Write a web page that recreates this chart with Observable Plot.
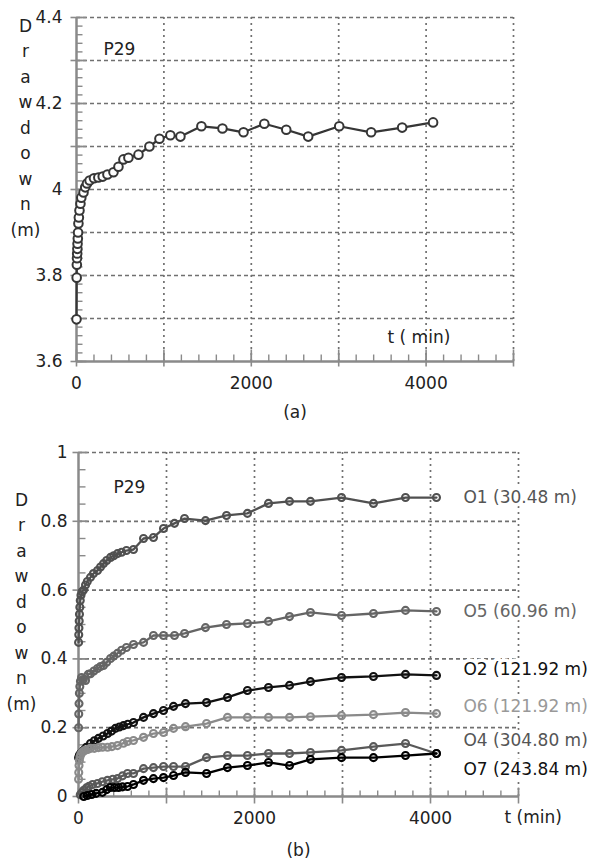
<!DOCTYPE html>
<html>
<head>
<meta charset="utf-8">
<script src="https://cdn.jsdelivr.net/npm/d3@7"></script>
<script src="https://cdn.jsdelivr.net/npm/@observablehq/plot@0.6"></script>
<style>
  html, body { margin: 0; padding: 0; background: white; }
  svg { display: block; }
</style>
</head>
<body>
<div id="chart"></div>
<script>
// ---------- Data ----------
// (a) P29 drawdown [t (min), drawdown (m)]
const P29 = [
  [0,3.698],[2,3.795],[4,3.825],[6,3.84],[8,3.851],[10,3.862],[12,3.874],[15,3.886],
  [18,3.9],[22,3.921],[27,3.935],[34,3.951],[45,3.967],[55,3.981],[80,3.993],[100,4.005],
  [120,4.014],[150,4.021],[200,4.026],[250,4.028],[300,4.03],[354,4.035],[423,4.04],
  [480,4.053],[537,4.07],[594,4.074],[709,4.081],[834,4.1],[949,4.118],[1074,4.126],
  [1189,4.123],[1429,4.147],[1670,4.142],[1911,4.133],[2149,4.153],[2400,4.139],
  [2651,4.123],[3006,4.147],[3371,4.133],[3726,4.144],[4080,4.156]
];

// (b) observation wells [t (min), drawdown (m)]
const O1 = [
  [1,0.448],[3,0.47],[5,0.49],[8,0.51],[11,0.53],[15,0.55],[20,0.57],[28,0.585],[40,0.595],
  [57,0.6],[80,0.615],[100,0.625],[136,0.637],[170,0.648],[216,0.657],[250,0.667],[284,0.677],
  [320,0.686],[364,0.695],[400,0.7],[443,0.706],[490,0.71],[545,0.715],[625,0.718],[739,0.75],
  [852,0.753],[966,0.779],[1091,0.794],[1205,0.808],[1443,0.802],[1682,0.817],[1920,0.823],
  [2159,0.852],[2398,0.858],[2636,0.858],[2989,0.869],[3352,0.852],[3716,0.869],[4068,0.869]
];
const O5 = [
  [1,0.2],[3,0.24],[6,0.27],[10,0.3],[15,0.32],[22,0.335],[35,0.346],[55,0.34],[80,0.337],
  [110,0.355],[136,0.357],[175,0.365],[216,0.372],[250,0.378],[284,0.381],[320,0.39],
  [364,0.401],[400,0.408],[443,0.416],[490,0.425],[545,0.433],[625,0.442],[739,0.448],
  [852,0.468],[966,0.468],[1091,0.468],[1205,0.474],[1443,0.491],[1682,0.5],[1920,0.503],
  [2159,0.509],[2398,0.523],[2636,0.535],[2989,0.526],[3352,0.532],[3716,0.541],[4068,0.538]
];
const O2 = [
  [1,0.113],[10,0.12],[25,0.125],[57,0.134],[90,0.143],[136,0.154],[180,0.162],[227,0.169],
  [280,0.176],[330,0.183],[375,0.19],[420,0.198],[465,0.202],[511,0.206],[560,0.21],
  [625,0.215],[739,0.23],[852,0.241],[966,0.25],[1080,0.262],[1216,0.27],[1455,0.273],
  [1693,0.288],[1920,0.308],[2159,0.317],[2398,0.323],[2636,0.334],[2989,0.346],
  [3352,0.349],[3716,0.355],[4068,0.352]
];
const O6 = [
  [1,0.05],[3,0.07],[6,0.09],[10,0.105],[16,0.115],[25,0.122],[40,0.128],[60,0.132],
  [80,0.135],[110,0.137],[136,0.14],[180,0.14],[227,0.142],[272,0.143],[330,0.143],
  [380,0.145],[443,0.148],[511,0.155],[557,0.16],[625,0.163],[739,0.172],[852,0.183],
  [966,0.186],[1080,0.198],[1216,0.203],[1455,0.212],[1693,0.23],[1920,0.23],[2159,0.23],
  [2398,0.23],[2636,0.232],[2989,0.235],[3352,0.238],[3716,0.244],[4068,0.241]
];
const O4 = [
  [20,0.005],[40,0.012],[60,0.018],[90,0.025],[120,0.03],[160,0.035],[216,0.038],[270,0.043],
  [330,0.047],[390,0.05],[443,0.052],[500,0.06],[557,0.067],[625,0.067],[739,0.081],
  [852,0.084],[966,0.087],[1080,0.087],[1216,0.087],[1455,0.113],[1693,0.119],[1920,0.119],
  [2159,0.125],[2398,0.125],[2636,0.128],[2989,0.134],[3352,0.145],[3716,0.154],[4068,0.125]
];
const O7 = [
  [60,0.0],[100,0.003],[150,0.006],[200,0.009],[272,0.012],[320,0.02],[364,0.026],[410,0.026],
  [455,0.026],[500,0.028],[557,0.029],[625,0.035],[739,0.047],[852,0.052],[966,0.055],
  [1080,0.061],[1216,0.07],[1455,0.067],[1693,0.084],[1920,0.09],[2159,0.099],[2398,0.09],
  [2636,0.108],[2989,0.113],[3352,0.113],[3716,0.119],[4068,0.125]
];

const seriesNames = ["O1","O5","O2","O6","O4","O7"];
const seriesLabels = ["O1 (30.48 m)","O5 (60.96 m)","O2 (121.92 m)","O6 (121.92 m)","O4 (304.80 m)","O7 (243.84 m)"];
const seriesLabelY = [0.869, 0.538, 0.369, 0.262, 0.163, 0.078];
const seriesColors = ["#505050","#656565","#111111","#8a8a8a","#595959","#000000"];
const labelColors  = ["#555555","#666666","#111111","#999999","#555555","#111111"];
const seriesData = [O1, O5, O2, O6, O4, O7];

// Tick values
const xLabelTicks = [0, 2000, 4000];
const xMajor = [0, 1000, 2000, 3000, 4000, 5000];
const xMinor = d3.range(0, 5001, 200);
const xGrid = [1000, 2000, 3000, 4000, 5000];

const yLabelTicksA = [3.6, 3.8, 4.0, 4.2, 4.4];
const yMajorA = d3.range(36, 45, 1).map(d => d / 10);
const yMinorA = d3.range(180, 221, 1).map(d => d / 50);
const yGridA = d3.range(37, 45, 1).map(d => d / 10);

const yLabelTicksB = [0, 0.2, 0.4, 0.6, 0.8, 1];
const yMajorB = [0, 0.2, 0.4, 0.6, 0.8, 1];
const yMinorB = d3.range(0, 21, 1).map(d => d / 20);
const yGridB = [0.2, 0.4, 0.6, 0.8, 1];

// ---------- Styling helpers ----------
const axisColor = "#8a8a8a";
const gridColor = "#707070";
const textColor = "#222";
const font = "DejaVu Sans";
const seg = (x1, y1, x2, y2) => ({ draw(ctx) { ctx.moveTo(x1, y1); ctx.lineTo(x2, y2); } });
const fmt = d => `${+d.toFixed(2)}`;
const yLabel = "D\nr\na\nw\nd\no\nw\nn\n(m)";

function frameMarks({yDomain, yGrid, yMajor, yMinor, yTicks, yPad, majY, minY, majX, minX}) {
  return [
    Plot.ruleY(yGrid, {stroke: gridColor, strokeWidth: 1.7, strokeDasharray: "4,3"}),
    Plot.ruleX(xGrid, {y1: yDomain[0], y2: yDomain[1], stroke: gridColor, strokeWidth: 1.7, strokeDasharray: "2,4"}),
    Plot.ruleX([0], {y1: yDomain[0], y2: yDomain[1], stroke: axisColor, strokeWidth: 2.5}),
    Plot.ruleY([yDomain[0]], {x1: 0, x2: 5000, stroke: axisColor, strokeWidth: 2.5}),
    Plot.dot(yMinor, {x: 0, y: d => d, symbol: seg(0, 0, minY, 0), stroke: axisColor, strokeWidth: 1.4, fill: "none"}),
    Plot.dot(yMajor, {x: 0, y: d => d, symbol: seg(majY[0], 0, majY[1], 0), stroke: axisColor, strokeWidth: 1.6, fill: "none"}),
    Plot.dot(xMinor, {x: d => d, y: yDomain[0], symbol: seg(0, 0, 0, -minX), stroke: axisColor, strokeWidth: 1.4, fill: "none"}),
    Plot.dot(xMajor, {x: d => d, y: yDomain[0], symbol: seg(0, majX[0], 0, majX[1]), stroke: axisColor, strokeWidth: 1.6, fill: "none"}),
    Plot.axisY({ticks: yTicks, tickSize: 0, tickPadding: yPad, tickFormat: fmt, label: null, fill: textColor}),
    Plot.axisX({ticks: xLabelTicks, tickSize: 0, tickPadding: 15, tickFormat: d => `${d}`, label: null, fill: textColor})
  ];
}

// ---------- (a) ----------
const chartA = Plot.plot({
  width: 589, height: 440,
  marginLeft: 76, marginRight: 76, marginTop: 17, marginBottom: 79,
  x: {domain: [0, 5000]},
  y: {domain: [3.6, 4.4]},
  style: {fontFamily: font, fontSize: "17px", background: "white", color: textColor},
  marks: [
    ...frameMarks({yDomain: [3.6, 4.4], yGrid: yGridA, yMajor: yMajorA, yMinor: yMinorA,
      yTicks: yLabelTicksA, yPad: 14, majY: [-6, 10], minY: 6, majX: [-12, 5], minX: 7}),
    Plot.line(P29, {x: d => d[0], y: d => d[1], stroke: "#363636", strokeWidth: 2.2}),
    Plot.dot(P29, {x: d => d[0], y: d => d[1], r: 4.3, stroke: "#363636", strokeWidth: 2, fill: "white"}),
    Plot.text([yLabel], {text: d => d, frameAnchor: "top-left", dx: -51, dy: -4, lineAnchor: "top", textAnchor: "middle", lineHeight: 1.5, fill: textColor}),
    Plot.text(["P29"], {text: d => d, frameAnchor: "top-left", dx: 27, dy: 32, textAnchor: "start", lineAnchor: "middle", fill: textColor}),
    Plot.text(["t ( min)"], {text: d => d, frameAnchor: "bottom-left", dx: 311, dy: -24, textAnchor: "start", lineAnchor: "middle", fill: textColor}),
    Plot.text(["(a)"], {text: d => d, frameAnchor: "bottom", dy: 51, textAnchor: "middle", lineAnchor: "middle", fill: textColor})
  ]
});

// ---------- (b) ----------
const seriesMarks = seriesData.flatMap((data, i) => [
  Plot.line(data, {x: d => d[0], y: d => d[1], stroke: seriesColors[i], strokeWidth: 2.3}),
  Plot.dot(data, {x: d => d[0], y: d => d[1], r: 3.5, stroke: seriesColors[i], strokeWidth: 2.1, fill: "none"})
]);
const labelRows = seriesNames.map((name, i) => ({
  name, label: seriesLabels[i], t: seriesData[i][seriesData[i].length - 1][0], y: seriesLabelY[i], color: labelColors[i]
}));

const chartB = Plot.plot({
  width: 589, height: 423,
  marginLeft: 78, marginRight: 71, marginTop: 12, marginBottom: 67,
  x: {domain: [0, 5000]},
  y: {domain: [0, 1]},
  style: {fontFamily: font, fontSize: "17px", background: "white", color: textColor},
  marks: [
    ...frameMarks({yDomain: [0, 1], yGrid: yGridB, yMajor: yMajorB, yMinor: yMinorB,
      yTicks: yLabelTicksB, yPad: 11, majY: [-6, 9], minY: 7, majX: [-9, 7], minX: 6}),
    ...seriesMarks,
    Plot.text(labelRows, {x: "t", y: "y", text: "label", fill: "color", dx: 27, textAnchor: "start", lineAnchor: "middle",
      stroke: "white", strokeWidth: 7, paintOrder: "stroke"}),
    Plot.text([yLabel], {text: d => d, frameAnchor: "top-left", dx: -57, dy: 35, lineAnchor: "top", textAnchor: "middle", lineHeight: 1.5, fill: textColor}),
    Plot.text(["P29"], {text: d => d, frameAnchor: "top-left", dx: 35, dy: 35, textAnchor: "start", lineAnchor: "middle", fill: textColor}),
    Plot.text(["t (min)"], {text: d => d, frameAnchor: "bottom-left", dx: 426, dy: 21, textAnchor: "start", lineAnchor: "middle", fill: textColor}),
    Plot.text(["(b)"], {text: d => d, frameAnchor: "bottom", dy: 54, textAnchor: "middle", lineAnchor: "middle", fill: textColor})
  ]
});

const root = document.getElementById("chart");
root.appendChild(chartA);
root.appendChild(chartB);
</script>
</body>
</html>
